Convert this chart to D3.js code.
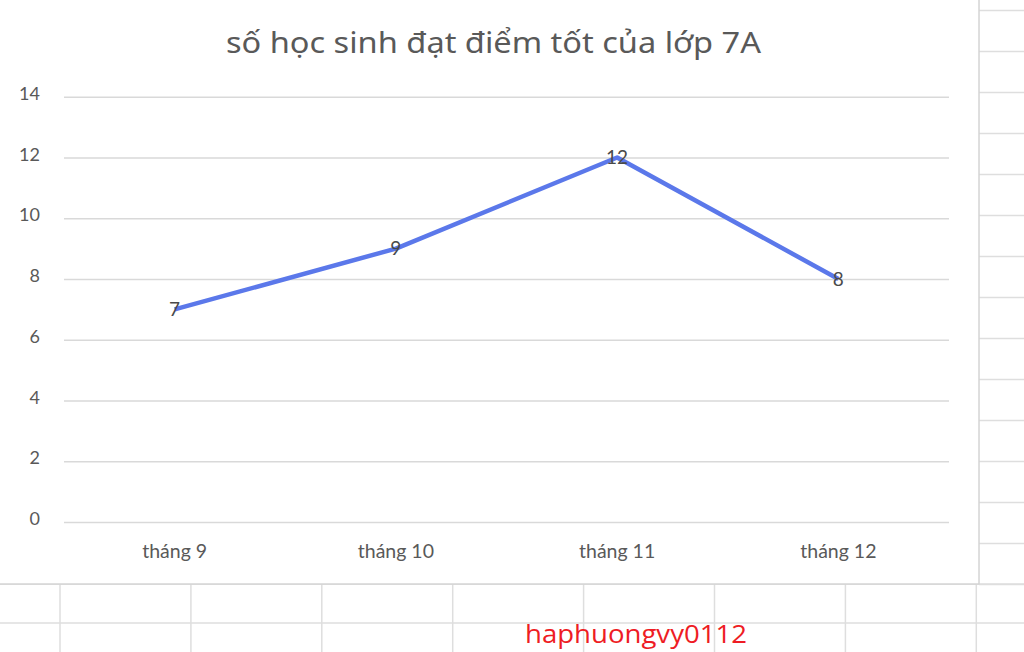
<!DOCTYPE html>
<html lang="vi">
<head>
<meta charset="utf-8">
<script src="https://d3js.org/d3.v7.min.js"></script>
<style>
  body { margin: 0; background: #fff; }
  svg { display: block; }
</style>
</head>
<body>
<script>
// chart data
var months = ["tháng 9", "tháng 10", "tháng 11", "tháng 12"];
var students = [7, 9, 12, 8];
var yTicks = [0, 2, 4, 6, 8, 10, 12, 14];
var chartTitle = "số học sinh đạt điểm tốt của lớp 7A";
var watermark = "haphuongvy0112";

var width = 1024, height = 652;
var boxW = 979, boxH = 584;

var svg = d3.select("body").append("svg")
  .attr("width", width)
  .attr("height", height);

// spreadsheet cells behind the chart
var cells = svg.append("g").attr("stroke", "#dedede").attr("stroke-width", 1.5);
d3.range(60, width, 130.9).forEach(function(x) {
  cells.append("line").attr("x1", x).attr("x2", x).attr("y1", boxH).attr("y2", height);
});
d3.range(10.5, boxH + 1, 41).forEach(function(y) {
  cells.append("line").attr("x1", boxW).attr("x2", width).attr("y1", y).attr("y2", y);
});
[584, 623].forEach(function(y) {
  cells.append("line").attr("x1", 0).attr("x2", width).attr("y1", y).attr("y2", y);
});

// chart box
svg.append("rect")
  .attr("x", -2).attr("y", -2)
  .attr("width", boxW + 2).attr("height", boxH + 2)
  .attr("fill", "#fff")
  .attr("stroke", "#d4d4d4")
  .attr("stroke-width", 1.5);

var x = d3.scaleBand()
  .domain(months)
  .range([64, 949]);

var y = d3.scaleLinear()
  .domain([0, 14])
  .range([522, 96.7]);

// gridlines + y labels
var yAxis = d3.axisLeft(y)
  .tickValues(yTicks)
  .tickSize(-(949 - 64))
  .tickPadding(24);

var gy = svg.append("g")
  .attr("transform", "translate(64,0)")
  .call(yAxis);
gy.select(".domain").remove();
gy.selectAll(".tick line").attr("stroke", "#d9d9d9").attr("stroke-width", 1.5);
gy.selectAll(".tick text")
  .attr("fill", "#595959")
  .attr("dy", "0.15em")
  .style("font-family", "Lato, 'Noto Sans', sans-serif")
  .style("font-size", "18px");

// x labels
var xAxis = d3.axisBottom(x).tickSize(0).tickPadding(22);
var gx = svg.append("g")
  .attr("transform", "translate(0,522)")
  .call(xAxis);
gx.select(".domain").remove();
gx.selectAll(".tick text")
  .attr("fill", "#595959")
  .style("font-family", "Lato, 'Noto Sans', sans-serif")
  .style("font-size", "19.5px");

// the line
var line = d3.line()
  .x(function(d, i) { return x(months[i]) + x.bandwidth() / 2; })
  .y(function(d) { return y(d); });

svg.append("path")
  .datum(students)
  .attr("d", line)
  .attr("fill", "none")
  .attr("stroke", "#5b78ea")
  .attr("stroke-width", 4.5)
  .attr("stroke-linejoin", "round");

// value labels sitting on the points
svg.selectAll(".val")
  .data(students)
  .enter().append("text")
  .attr("class", "val")
  .attr("x", function(d, i) { return x(months[i]) + x.bandwidth() / 2; })
  .attr("y", function(d) { return y(d); })
  .attr("dy", "0.35em")
  .attr("text-anchor", "middle")
  .attr("fill", "#4a4a4a")
  .style("font-family", "Lato, 'Noto Sans', sans-serif")
  .style("font-size", "19px")
  .text(function(d) { return d; });

// title
svg.append("text")
  .attr("x", 226)
  .attr("y", 53)
  .attr("fill", "#595959")
  .attr("textLength", 535)
  .attr("lengthAdjust", "spacingAndGlyphs")
  .style("font-family", "'Noto Sans', sans-serif")
  .style("font-size", "29px")
  .text(chartTitle);

// red name under the chart
svg.append("text")
  .attr("x", 525)
  .attr("y", 643)
  .attr("fill", "#ee1c24")
  .attr("textLength", 222)
  .attr("lengthAdjust", "spacingAndGlyphs")
  .style("font-family", "'Open Sans', sans-serif")
  .style("font-size", "25px")
  .text(watermark);
</script>
</body>
</html>
